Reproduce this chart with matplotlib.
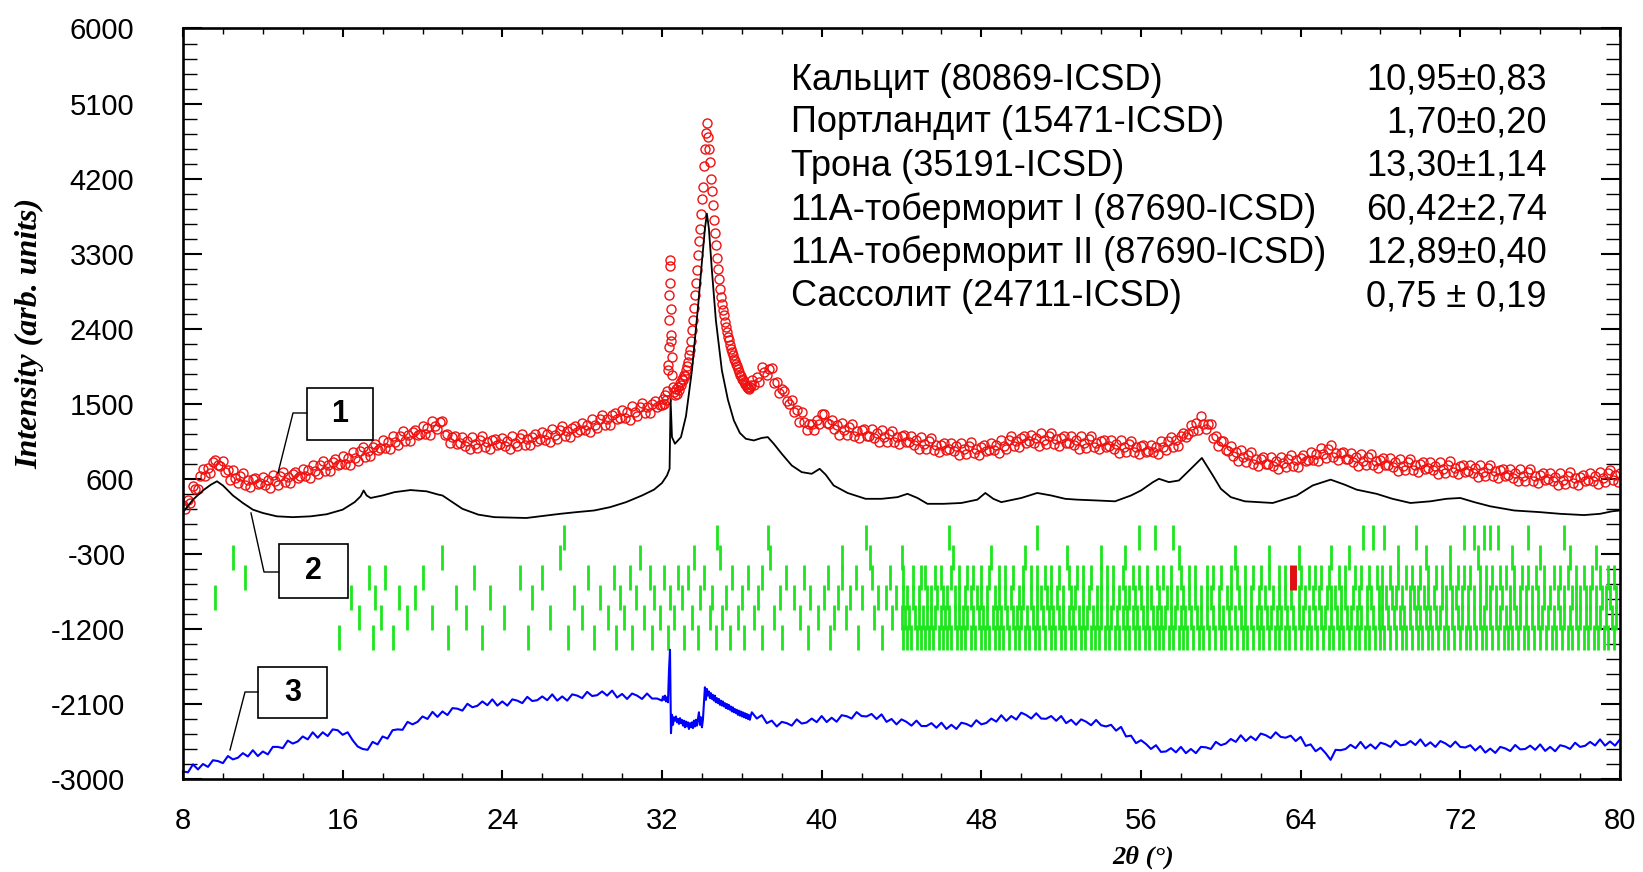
import numpy as np
import matplotlib
matplotlib.use("Agg")
import matplotlib.pyplot as plt
from matplotlib.patches import Rectangle
from matplotlib.lines import Line2D
from matplotlib.ticker import FixedLocator
from matplotlib.transforms import ScaledTranslation

plt.rcParams['axes.unicode_minus'] = False

W, H = 1643, 872

# observed pattern (red circles): 8-31.875 step 0.125, 32-36.45 step 0.05, 36.5-80 step 0.125
obs_a = [290, 240, 350, 305, 510, 480, 480, 630, 720, 630, 730, 675, 800, 830, 760, 750,
         810, 680, 710, 585, 710, 612, 545, 635, 665, 528, 580, 498, 595, 614, 533, 544,
         625, 528, 590, 495, 650, 575, 530, 635, 680, 556, 622, 548, 655, 682, 610, 630,
         720, 630, 700, 610, 770, 699, 658, 766, 815, 695, 765, 695, 805, 833, 762, 781,
         870, 780, 850, 760, 920, 852, 815, 928, 980, 862, 935, 868, 980, 1012, 945, 968,
         1060, 971, 1042, 954, 1115, 1046, 1008, 1119, 1170, 1050, 1120, 1050, 1160, 1190, 1120, 1140,
         1230, 1142, 1215, 1128, 1290, 1230, 1200, 1280, 1290, 1120, 1140, 1030, 1100, 1110, 1020, 1025,
         1100, 998, 1055, 952, 1100, 1020, 970, 1070, 1110, 980, 1040, 960, 1060, 1081, 1002, 1014,
         1095, 996, 1058, 959, 1110, 1034, 988, 1092, 1135, 1010, 1075, 1000, 1105, 1132, 1058, 1074,
         1160, 1066, 1132, 1038, 1195, 1122, 1078, 1184, 1230, 1108, 1175, 1102, 1210, 1238, 1165, 1182,
         1270, 1180, 1250, 1160, 1320, 1250, 1210, 1320, 1370, 1250, 1320, 1250, 1360, 1388, 1315, 1332,
         1420, 1330, 1400, 1310, 1470, 1398, 1355, 1462, 1510, 1390, 1460, 1390, 1500, 1530, 1460, 1480]
obs_b = [1480, 1560, 1500, 1600, 1540, 1650, 1900, 2500, 3220, 2640,
         2060, 1700, 1640, 1600, 1680, 1620, 1700, 1660, 1750, 1720,
         1800, 1780, 1850, 1830, 1900, 1950, 2000, 2080, 2150, 2250,
         2380, 2500, 2650, 2800, 2950, 3100, 3280, 3450, 3600, 3780,
         3950, 4100, 4350, 4550, 4750, 4870, 4700, 4550, 4400, 4200,
         4050, 3880, 3700, 3550, 3400, 3250, 3120, 3000, 2880, 2780,
         2700, 2620, 2560, 2480, 2420, 2360, 2300, 2260, 2200, 2160,
         2120, 2080, 2040, 2010, 1980, 1950, 1920, 1880, 1850, 1830,
         1800, 1780, 1760, 1740, 1720, 1700, 1690, 1680, 1700, 1720]
obs_c = [1780, 1720, 1820, 1760, 1940, 1880, 1840, 1920, 1930, 1750, 1760, 1630, 1680, 1655, 1530, 1500,
         1540, 1400, 1420, 1285, 1400, 1280, 1190, 1255, 1260, 1190, 1310, 1260, 1380, 1375, 1270, 1255,
         1310, 1195, 1240, 1130, 1270, 1184, 1128, 1221, 1255, 1119, 1172, 1086, 1180, 1196, 1111, 1117,
         1192, 1088, 1144, 1039, 1185, 1101, 1046, 1142, 1178, 1043, 1099, 1014, 1110, 1124, 1038, 1041,
         1115, 1009, 1062, 956, 1100, 1014, 958, 1051, 1085, 949, 1002, 916, 1010, 1028, 946, 954,
         1032, 930, 988, 886, 1035, 953, 901, 999, 1037, 905, 963, 881, 980, 1006, 932, 949,
         1035, 941, 1008, 914, 1070, 998, 955, 1062, 1110, 988, 1055, 982, 1090, 1112, 1035, 1048,
         1130, 1032, 1095, 998, 1150, 1068, 1015, 1112, 1150, 1018, 1075, 992, 1090, 1108, 1025, 1032,
         1110, 1008, 1065, 962, 1110, 1028, 975, 1072, 1110, 978, 1035, 952, 1050, 1066, 982, 989,
         1065, 961, 1018, 914, 1060, 976, 922, 1019, 1055, 921, 978, 894, 990, 1008, 925, 932,
         1010, 918, 985, 892, 1050, 980, 940, 1050, 1100, 985, 1060, 995, 1110, 1155, 1100, 1135,
         1240, 1175, 1270, 1185, 1350, 1260, 1200, 1260, 1260, 1090, 1110, 990, 1050, 1048, 945, 932,
         990, 878, 925, 812, 950, 860, 800, 890, 920, 782, 835, 748, 840, 858, 775, 782,
         860, 758, 815, 712, 860, 784, 738, 841, 885, 759, 822, 746, 850, 880, 810, 830,
         920, 830, 900, 810, 970, 895, 850, 955, 1000, 860, 910, 820, 910, 922, 835, 838,
         910, 805, 860, 755, 900, 816, 762, 859, 895, 761, 818, 734, 830, 846, 762, 769,
         845, 741, 798, 694, 840, 758, 705, 802, 840, 708, 765, 682, 780, 798, 716, 724,
         802, 701, 759, 657, 805, 723, 671, 769, 808, 676, 734, 652, 750, 768, 685, 692,
         770, 668, 725, 622, 770, 686, 632, 729, 765, 631, 688, 604, 700, 717, 634, 641,
         718, 614, 671, 568, 715, 632, 579, 676, 712, 579, 636, 553, 650, 668, 585, 592,
         670, 568, 625, 522, 670, 589, 539, 638, 678, 547, 606, 526, 625, 648, 570, 582,
         665, 568, 630, 532, 685, 608, 561, 664, 708, 581, 644, 567, 670]
spike_tt = [32.32, 32.33, 32.37, 32.38, 32.42, 32.43, 32.47, 32.48]
spike_i = [1970, 2180, 2800, 3150, 2950, 2320, 2250, 1850]

# calculated pattern (black line)
calc_tt = [8.0, 8.5, 9.0, 9.4, 9.7, 10.0, 10.5, 11.0, 11.5, 12.0,
           12.7, 13.5, 14.4, 15.2, 16.0, 16.6, 16.9, 17.05, 17.2, 17.4,
           18.0, 18.6, 19.4, 20.2, 20.8, 21.0, 21.5, 22.0, 22.8, 23.6,
           25.2, 26.9, 27.7, 28.6, 29.4, 30.2, 31.0, 31.6, 32.0, 32.25,
           32.38, 32.43, 32.5, 32.65, 32.95, 33.2, 33.5, 33.8, 34.0, 34.15,
           34.25, 34.35, 34.5, 34.7, 35.0, 35.3, 35.6, 35.9, 36.2, 36.6,
           37.0, 37.3, 37.6, 38.0, 38.5, 39.0, 39.5, 39.9, 40.2, 40.6,
           41.3, 42.2, 43.0, 43.8, 44.3, 44.8, 45.3, 46.1, 47.0, 47.8,
           48.2, 48.6, 49.0, 50.0, 50.8, 51.5, 52.2, 52.8, 53.8, 54.7,
           55.5, 56.0, 56.6, 56.9, 57.4, 57.9, 58.5, 59.05, 59.6, 60.0,
           60.5, 61.2, 62.6, 63.8, 64.6, 65.5, 66.2, 66.8, 67.8, 68.6,
           69.5, 70.5, 71.3, 72.0, 72.7, 73.5, 74.7, 76.0, 77.0, 78.2,
           79.0, 79.6, 80.0]
calc_i = [200, 350, 460, 530, 570, 520, 400, 310, 230, 190,
          150, 140, 150, 175, 230, 320, 390, 460, 400, 370,
          400, 440, 465, 450, 410, 400, 320, 240, 170, 140,
          130, 180, 200, 220, 260, 320, 400, 470, 550, 640,
          720, 1550, 1100, 1020, 1100, 1350, 1900, 2650, 3200, 3600,
          3780, 3600, 3100, 2500, 1900, 1550, 1300, 1150, 1080, 1060,
          1090, 1100, 1020, 900, 760, 680, 660, 720, 650, 520,
          430, 360, 360, 380, 420, 370, 300, 300, 310, 350,
          430, 360, 320, 370, 430, 400, 360, 350, 340, 330,
          400, 460, 560, 600, 560, 580, 720, 850, 640, 480,
          380, 330, 310, 400, 520, 590, 530, 470, 420, 360,
          310, 330, 360, 370, 320, 270, 220, 200, 180, 165,
          180, 210, 220]

# difference curve (blue line): 8-31.75 step 0.25, 32-36.45 step 0.05, 36.5-80 step 0.25
diff_a = [-2910, -2920, -2825, -2885, -2820, -2855, -2775, -2785, -2810, -2725, -2765, -2745,
          -2690, -2730, -2655, -2725, -2670, -2705, -2615, -2615, -2630, -2540, -2575, -2550,
          -2490, -2525, -2440, -2505, -2440, -2485, -2405, -2415, -2470, -2440, -2535, -2610,
          -2640, -2650, -2555, -2585, -2490, -2515, -2415, -2405, -2410, -2315, -2345, -2315,
          -2250, -2280, -2195, -2255, -2190, -2233, -2150, -2157, -2180, -2098, -2140, -2122,
          -2070, -2115, -2045, -2120, -2070, -2120, -2045, -2060, -2090, -2015, -2065, -2055,
          -2010, -2055, -1985, -2060, -2010, -2060, -1985, -2000, -2030, -1955, -2005, -1995,
          -1950, -2000, -1940, -2023, -1980, -2040, -1975, -2000, -2040, -1975, -2035, -2035]
diff_b = [-2060, -2010, -2050, -2000, -2070, -2020, -2080, -1700, -1450, -2450,
          -2230, -2350, -2260, -2300, -2250, -2320, -2280, -2340, -2270, -2330,
          -2290, -2360, -2300, -2380, -2310, -2370, -2320, -2400, -2330, -2380,
          -2320, -2390, -2300, -2370, -2290, -2360, -2280, -2200, -2350, -2260,
          -2380, -2290, -2100, -1900, -2050, -1920, -2000, -1950, -2030, -1970,
          -2040, -1990, -2060, -2000, -2080, -2030, -2090, -2040, -2110, -2060,
          -2120, -2070, -2130, -2090, -2150, -2100, -2160, -2110, -2170, -2130,
          -2190, -2140, -2200, -2160, -2210, -2170, -2230, -2180, -2240, -2190,
          -2250, -2200, -2260, -2210, -2270, -2220, -2280, -2230, -2290, -2240]
diff_c = [-2200, -2275, -2235, -2330, -2300, -2370, -2315, -2330, -2360, -2285, -2335, -2322,
          -2275, -2318, -2245, -2317, -2265, -2313, -2235, -2247, -2275, -2198, -2245, -2250,
          -2220, -2280, -2225, -2315, -2280, -2345, -2285, -2315, -2360, -2300, -2365, -2365,
          -2330, -2385, -2325, -2400, -2350, -2400, -2325, -2340, -2370, -2295, -2345, -2328,
          -2275, -2312, -2235, -2303, -2245, -2287, -2205, -2233, -2275, -2212, -2275, -2278,
          -2245, -2302, -2245, -2330, -2290, -2350, -2285, -2313, -2355, -2292, -2355, -2370,
          -2350, -2420, -2375, -2490, -2480, -2570, -2535, -2580, -2640, -2595, -2675, -2670,
          -2630, -2680, -2615, -2690, -2640, -2690, -2615, -2620, -2640, -2555, -2595, -2575,
          -2520, -2555, -2475, -2545, -2490, -2535, -2455, -2475, -2510, -2440, -2495, -2505,
          -2480, -2545, -2495, -2603, -2585, -2667, -2625, -2690, -2770, -2650, -2655, -2640,
          -2590, -2630, -2555, -2633, -2585, -2637, -2565, -2583, -2615, -2542, -2595, -2588,
          -2545, -2592, -2525, -2605, -2560, -2615, -2545, -2573, -2615, -2552, -2615, -2622,
          -2595, -2658, -2605, -2683, -2635, -2687, -2615, -2633, -2665, -2592, -2645, -2640,
          -2600, -2650, -2585, -2663, -2615, -2667, -2595, -2610, -2640, -2565, -2615, -2602,
          -2555, -2598, -2525, -2600, -2550, -2600, -2525]

# Bragg reflection positions, one row per phase
bragg = [
    [27.1, 34.75, 37.3, 42.2, 46.4, 50.8, 55.9, 56.7, 57.6, 67.1, 67.6, 68.2,
     69.8, 72.2, 72.7, 73.2, 73.5, 73.9, 75.4, 77.2],
    [10.5, 21.0, 26.9, 30.9, 33.6, 34.9, 37.4, 41.0, 42.4, 44.0, 46.6, 48.5,
     50.2, 52.3, 54.0, 55.2, 57.9, 60.7, 62.4, 63.9, 65.5, 66.4, 68.9, 70.3,
     71.5, 72.9, 74.6, 76.0, 77.5, 78.8],
    [11.1, 17.3, 18.1, 20.0, 22.6, 24.9, 26.0, 28.3, 29.6, 30.4, 31.4, 32.1,
     32.8, 33.3, 34.1, 35.5, 36.3, 37.0, 38.2, 39.1, 40.3, 41.0, 41.7, 42.5,
     43.4, 44.1, 44.6, 45.0, 45.2, 45.7, 46.0, 46.5, 46.9, 47.3, 47.6, 48.0,
     48.4, 48.9, 49.2, 49.6, 50.1, 50.5, 50.8, 51.2, 51.5, 51.9, 52.4, 52.8,
     53.1, 53.5, 54.0, 54.3, 54.6, 55.1, 55.6, 55.9, 56.3, 56.8, 57.1, 57.5,
     58.0, 58.4, 58.7, 59.3, 59.6, 60.0, 60.5, 60.8, 61.2, 61.6, 62.0, 62.4,
     62.9, 63.2, 64.0, 64.4, 64.7, 65.0, 65.4, 65.9, 66.2, 66.7, 67.0, 67.4,
     67.8, 68.1, 68.5, 68.9, 69.3, 69.6, 70.0, 70.4, 70.8, 71.1, 71.5, 71.9,
     72.2, 72.5, 73.0, 73.3, 73.6, 74.0, 74.3, 74.7, 75.1, 75.4, 75.8, 76.2,
     76.7, 77.0, 77.4, 77.8, 78.2, 78.6, 79.0, 79.4, 79.7],
    [9.6, 16.4, 17.6, 18.8, 19.6, 21.7, 23.4, 25.5, 27.6, 28.9, 29.9, 30.7,
     31.6, 32.4, 33.0, 33.9, 34.5, 35.2, 36.0, 36.8, 37.9, 38.6, 39.4, 40.1,
     40.8, 41.4, 42.0, 42.8, 43.2, 43.7, 44.1, 44.3, 44.6, 44.9, 45.3, 45.5,
     45.8, 46.1, 46.3, 46.7, 46.9, 47.2, 47.5, 47.8, 48.0, 48.3, 48.7, 48.9,
     49.2, 49.5, 49.9, 50.1, 50.5, 50.8, 51.0, 51.3, 51.5, 51.8, 52.1, 52.5,
     52.7, 53.1, 53.4, 53.8, 54.0, 54.3, 54.6, 54.9, 55.2, 55.4, 55.7, 56.0,
     56.3, 56.5, 56.9, 57.3, 57.5, 57.8, 58.1, 58.4, 58.7, 59.0, 59.3, 59.5,
     59.9, 60.3, 60.5, 60.9, 61.2, 61.5, 61.9, 62.2, 62.6, 62.9, 63.2, 63.5,
     63.9, 64.2, 64.6, 64.9, 65.3, 65.5, 65.7, 66.0, 66.2, 66.6, 66.9, 67.3,
     67.5, 67.9, 68.1, 68.3, 68.6, 68.8, 69.1, 69.5, 69.7, 69.9, 70.2, 70.4,
     70.7, 71.1, 71.3, 71.6, 71.8, 72.1, 72.4, 72.7, 73.0, 73.3, 73.5, 73.8,
     74.1, 74.5, 74.7, 75.0, 75.3, 75.6, 75.9, 76.2, 76.5, 76.9, 77.2, 77.6,
     77.8, 78.0, 78.3, 78.5, 78.8, 79.1, 79.3, 79.5, 79.8],
    [16.8, 17.9, 19.2, 20.5, 22.2, 24.1, 26.4, 28.0, 29.3, 30.1, 31.1, 31.9,
     32.6, 33.5, 34.4, 35.0, 35.8, 36.6, 37.6, 38.9, 39.8, 40.6, 41.2, 42.6,
     43.5, 44.0, 44.2, 44.4, 44.7, 44.9, 45.1, 45.3, 45.5, 45.7, 46.0, 46.2,
     46.4, 46.7, 46.9, 47.1, 47.3, 47.6, 47.9, 48.1, 48.3, 48.6, 48.8, 49.0,
     49.3, 49.6, 49.8, 50.0, 50.3, 50.6, 50.8, 51.1, 51.4, 51.6, 51.9, 52.1,
     52.4, 52.6, 52.9, 53.1, 53.3, 53.6, 53.8, 54.0, 54.3, 54.5, 54.8, 55.1,
     55.3, 55.6, 55.8, 56.1, 56.3, 56.6, 56.8, 57.0, 57.2, 57.5, 57.7, 58.0,
     58.2, 58.5, 58.8, 59.0, 59.3, 59.6, 59.9, 60.1, 60.4, 60.7, 61.0, 61.2,
     61.5, 61.8, 62.0, 62.3, 62.5, 62.8, 63.0, 63.3, 63.6, 63.9, 64.1, 64.4,
     64.7, 65.0, 65.2, 65.5, 65.8, 66.0, 66.3, 66.5, 66.8, 67.0, 67.3, 67.6,
     67.9, 68.1, 68.4, 68.7, 69.0, 69.2, 69.5, 69.8, 70.0, 70.3, 70.5, 70.8,
     71.0, 71.3, 71.6, 71.9, 72.1, 72.4, 72.7, 73.0, 73.2, 73.5, 73.8, 74.0,
     74.3, 74.5, 74.8, 75.0, 75.3, 75.6, 75.9, 76.1, 76.4, 76.7, 77.0, 77.2,
     77.5, 77.8, 78.0, 78.3, 78.5, 78.8, 79.0, 79.3, 79.6, 79.8],
    [15.8, 17.5, 18.5, 21.3, 23.0, 25.3, 27.3, 28.6, 29.7, 30.5, 31.5, 32.3,
     33.1, 33.8, 34.7, 35.4, 36.1, 37.0, 38.0, 39.3, 40.4, 41.8, 43.0, 44.1,
     44.3, 44.5, 44.8, 45.0, 45.2, 45.4, 45.6, 45.9, 46.1, 46.3, 46.5, 46.8,
     47.0, 47.2, 47.5, 47.7, 48.0, 48.2, 48.4, 48.7, 48.9, 49.1, 49.4, 49.7,
     49.9, 50.2, 50.4, 50.7, 50.9, 51.2, 51.5, 51.7, 52.0, 52.2, 52.5, 52.7,
     53.0, 53.2, 53.5, 53.7, 53.9, 54.2, 54.4, 54.7, 54.9, 55.2, 55.4, 55.7,
     55.9, 56.2, 56.4, 56.7, 56.9, 57.1, 57.4, 57.6, 57.9, 58.1, 58.3, 58.6,
     58.9, 59.1, 59.4, 59.7, 60.0, 60.2, 60.5, 60.8, 61.1, 61.3, 61.6, 61.9,
     62.1, 62.4, 62.7, 62.9, 63.2, 63.4, 63.7, 64.0, 64.3, 64.5, 64.8, 65.1,
     65.4, 65.6, 65.9, 66.1, 66.4, 66.7, 66.9, 67.2, 67.4, 67.7, 68.0, 68.2,
     68.5, 68.8, 69.1, 69.3, 69.6, 69.9, 70.1, 70.4, 70.6, 70.9, 71.2, 71.4,
     71.7, 72.0, 72.3, 72.5, 72.8, 73.1, 73.3, 73.6, 73.9, 74.2, 74.4, 74.6,
     74.9, 75.2, 75.4, 75.7, 76.0, 76.3, 76.6, 76.8, 77.1, 77.4, 77.6, 77.9,
     78.2, 78.4, 78.7, 78.9, 79.2, 79.4, 79.7],
]
red_mark_tt = [63.6]

phase_names = ["Кальцит (80869-ICSD)", "Портландит (15471-ICSD)", "Трона (35191-ICSD)",
               "11А-тоберморит I (87690-ICSD)", "11А-тоберморит II (87690-ICSD)",
               "Сассолит (24711-ICSD)"]
phase_wt = ["10,95±0,83", "1,70±0,20", "13,30±1,14", "60,42±2,74", "12,89±0,40",
            "0,75 ± 0,19"]

y_major = [-3000, -2100, -1200, -300, 600, 1500, 2400, 3300, 4200, 5100, 6000]


def fx(x):
    return x / W


def fy(y):
    return 1 - y / H


fig = plt.figure(figsize=(W / 100, H / 100), dpi=100)
ax = fig.add_axes([fx(183), fy(779), fx(1620) - fx(183), fy(28.5) - fy(779)])

obs_tt = np.concatenate([8.0 + 0.125 * np.arange(len(obs_a)),
                         32.0 + 0.05 * np.arange(len(obs_b)),
                         spike_tt,
                         36.5 + 0.125 * np.arange(len(obs_c))])
obs_i = np.concatenate([obs_a, obs_b, spike_i, obs_c])
diff_tt = np.concatenate([8.0 + 0.25 * np.arange(len(diff_a)),
                          32.0 + 0.05 * np.arange(len(diff_b)),
                          36.5 + 0.25 * np.arange(len(diff_c))])
diff_i = np.concatenate([diff_a, diff_b, diff_c])

green = "#1ee61e"
for k, pos in enumerate(bragg):
    top = 47 - 240 * k
    ax.vlines(pos, top - 300, top, colors=green, lw=2.0)
ax.vlines(red_mark_tt, 47 - 480 - 300, 47 - 480, colors="#e01010", lw=5)

ax.plot(diff_tt, diff_i, color="#0000ff", lw=1.5)
ax.plot(obs_tt, obs_i, "o", ms=6.5, mfc="none", mec="#f01010", mew=1.0)
ax.plot(calc_tt, calc_i, color="black", lw=1.3)

ax.set_xlim(8, 80)
ax.set_ylim(-3000, 6000)
ax.set_xticks(np.arange(8, 81, 8))
ax.set_xticks(np.arange(8, 81, 2), minor=True)
ax.yaxis.set_major_locator(FixedLocator(y_major))
ax.yaxis.set_minor_locator(FixedLocator(np.arange(-3000, 6001, 180)))
ax.tick_params(which="both", direction="in", top=True, right=True, labelsize=21,
               color="black")
ax.tick_params(axis="x", which="major", length=6.5, width=1.5, pad=20)
ax.tick_params(axis="x", which="minor", length=4.3, width=1.0)
ax.tick_params(axis="y", which="major", length=14, width=1.5, pad=35)
ax.tick_params(axis="y", which="minor", length=10, width=1.0)
for lab in ax.get_xticklabels() + ax.get_yticklabels():
    lab.set_fontfamily("Liberation Sans")
for sp in ax.spines.values():
    sp.set_linewidth(1.9)

fig.canvas.draw()
shift = ScaledTranslation(-9 / 100, 0, fig.dpi_scale_trans)
for tick in ax.yaxis.get_major_ticks():
    if tick.get_loc() < 0:
        tick.label1.set_transform(tick.label1.get_transform() + shift)

# phase table
rows_y = [80, 123, 166, 210, 253, 297]
for name, wt, yy in zip(phase_names, phase_wt, rows_y):
    fig.text(fx(791), fy(yy), name, ha="left", va="center", fontsize=26,
             family="Liberation Sans")
    fig.text(fx(1547), fy(yy), wt, ha="right", va="center", fontsize=26,
             family="Liberation Sans")

# numbered callouts
boxes = [("1", (306.7, 388, 373.3, 440), [(306.7, 413), (293, 413), (278, 473)]),
         ("2", (278.6, 544, 347.5, 598), [(278.6, 572), (264, 572), (251, 513)]),
         ("3", (258, 667, 327, 718), [(258, 692), (245, 692), (230, 750)])]
for num, (x0, y0, x1, y1), path in boxes:
    fig.add_artist(Line2D([fx(p[0]) for p in path], [fy(p[1]) for p in path],
                          transform=fig.transFigure, color="black", lw=1.0))
    fig.add_artist(Rectangle((fx(x0), fy(y1)), fx(x1) - fx(x0), fy(y0) - fy(y1),
                             transform=fig.transFigure, facecolor="white",
                             edgecolor="black", lw=1.2))
    fig.text(fx((x0 + x1) / 2), fy((y0 + y1) / 2), num, ha="center", va="center",
             fontsize=22, weight="bold", family="Liberation Sans")

fig.text(fx(30), fy(333), "Intensity (arb. units)", rotation=90, ha="center",
         va="center", fontsize=23, weight="bold", style="italic",
         family="Liberation Serif")
fig.text(fx(1143), fy(857), "2θ (°)", ha="center", va="center", fontsize=19,
         weight="bold", style="italic", family="Liberation Serif")

fig.savefig("out.png", dpi=100)
